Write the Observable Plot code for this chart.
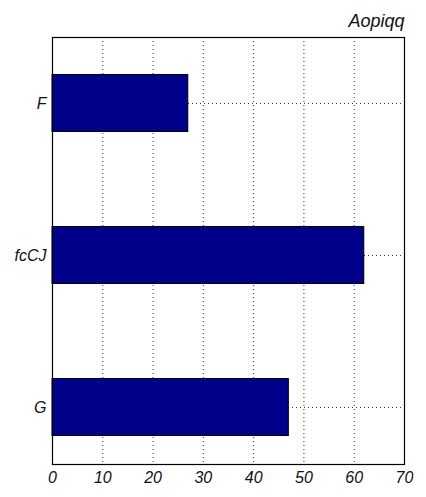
<!DOCTYPE html>
<html>
<head>
<meta charset="utf-8">
<script src="https://cdn.jsdelivr.net/npm/d3@7"></script>
<script src="https://cdn.jsdelivr.net/npm/@observablehq/plot@0.6"></script>
<style>
  html, body { margin: 0; padding: 0; background: #fff; }
  #chart svg { display: block; }
</style>
</head>
<body>
<div id="chart"></div>
<script>
const title = "Aopiqq";
const categories = ["F", "fcCJ", "G"];
const values = [27, 62, 47];
const xTicks = [0, 10, 20, 30, 40, 50, 60, 70];

const data = categories.map((c, i) => ({cat: c, i, v: values[i]}));
const idx = categories.map((c, i) => i);
const half = 0.1875;

const chart = Plot.plot({
  width: 426,
  height: 497,
  marginLeft: 52,
  marginRight: 22,
  marginTop: 37,
  marginBottom: 33,
  style: {fontFamily: "'Liberation Sans', Arial, sans-serif", fontStyle: "italic", fontSize: "16px", color: "#111", background: "white"},
  x: {domain: [0, 70], ticks: xTicks, tickSize: 0, tickPadding: 7, label: null},
  y: {domain: [-0.434, 2.375], reverse: true, ticks: idx, tickFormat: i => categories[i], tickSize: 0, tickPadding: 6, label: null},
  marks: [
    Plot.ruleX(xTicks.slice(1, -1), {stroke: "#333", strokeDasharray: "1,3"}),
    Plot.ruleY(idx, {stroke: "#333", strokeDasharray: "1,3"}),
    Plot.rect(data, {x1: 0, x2: "v", y1: d => d.i - half, y2: d => d.i + half, fill: "#00008b", stroke: "black", strokeWidth: 1}),
    Plot.frame({stroke: "black", strokeWidth: 1.2}),
    Plot.text([title], {frameAnchor: "top-right", dy: -11, textAnchor: "end", lineAnchor: "bottom", fontSize: 18, fill: "#111"})
  ]
});
document.getElementById("chart").append(chart);
</script>
</body>
</html>
